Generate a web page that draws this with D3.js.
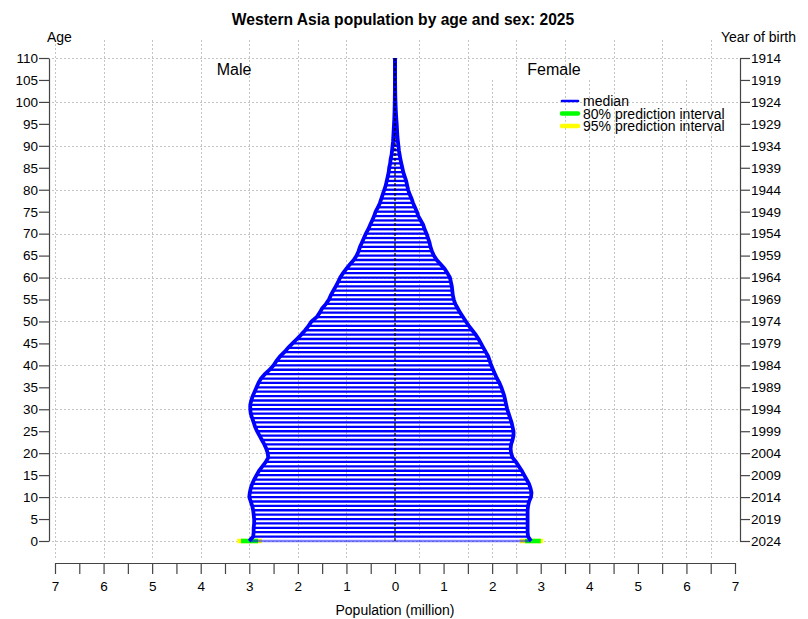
<!DOCTYPE html>
<html><head><meta charset="utf-8">
<script src="https://cdn.jsdelivr.net/npm/d3@7"></script>
<style>
body{margin:0;background:#fff;}
svg{display:block;font-family:"Liberation Sans",Arial,Helvetica,sans-serif;}
</style></head>
<body>
<svg id="chart" width="808" height="619"></svg>
<script>
// ---- data (population in millions, single ages 0..110) ----
const ages = d3.range(0, 111);
const male = [3.00,2.92,2.91,2.91,2.90,2.90,2.91,2.92,2.94,2.97,
  3.00,2.99,2.97,2.94,2.90,2.85,2.80,2.73,2.66,2.61,
  2.62,2.65,2.69,2.74,2.79,2.84,2.88,2.91,2.94,2.97,
  2.98,2.98,2.96,2.93,2.89,2.85,2.81,2.76,2.68,2.58,
  2.50,2.44,2.37,2.28,2.20,2.11,2.02,1.93,1.85,1.78,
  1.72,1.61,1.55,1.50,1.42,1.36,1.32,1.27,1.22,1.17,
  1.13,1.07,1.00,0.93,0.85,0.79,0.75,0.72,0.68,0.64,
  0.60,0.55,0.51,0.47,0.43,0.40,0.35,0.31,0.28,0.25,
  0.22,0.19,0.17,0.15,0.13,0.12,0.10,0.09,0.07,0.06,
  0.05,0.04,0.035,0.03,0.025,0.02,0.015,0.012,0.009,0.007,
  0.005,0.004,0.003,0.002,0.002,0.001,0.001,0.001,0.0005,0.0005,0.0003];
const female = [2.80,2.74,2.73,2.73,2.73,2.73,2.73,2.73,2.74,2.76,
  2.80,2.81,2.79,2.76,2.71,2.66,2.61,2.55,2.49,2.42,
  2.39,2.38,2.39,2.42,2.44,2.44,2.42,2.40,2.37,2.34,
  2.31,2.29,2.27,2.25,2.22,2.19,2.15,2.10,2.06,2.02,
  1.98,1.95,1.92,1.87,1.82,1.77,1.72,1.66,1.59,1.52,
  1.46,1.40,1.34,1.29,1.24,1.21,1.19,1.18,1.17,1.15,
  1.13,1.08,1.02,0.94,0.86,0.80,0.76,0.73,0.71,0.68,
  0.65,0.61,0.58,0.53,0.48,0.45,0.41,0.37,0.34,0.30,
  0.27,0.25,0.23,0.20,0.17,0.15,0.13,0.11,0.095,0.08,
  0.07,0.06,0.05,0.045,0.04,0.035,0.028,0.022,0.017,0.013,
  0.01,0.007,0.005,0.004,0.003,0.002,0.0015,0.001,0.001,0.0005,0.0005];
// prediction intervals at age 0 (low, high)
const male80 = [2.82, 3.17];
const male95 = [2.74, 3.25];
const female80 = [2.68, 3.00];
const female95 = [2.57, 3.05];

const ageTicks = d3.range(0, 111, 5);
const birthYears = ageTicks.map(a => String(2024 - a));
const popTicks = d3.range(-7, 7.01, 0.5);
const popLabels = ["7","6","5","4","3","2","1","0","1","2","3","4","5","6","7"];
const ageGrid = d3.range(0, 111, 10);
const maleGrid = [-7,-6,-5,-4,-3,-2,-1];
const femaleGridFull = [0.5,1.5,2.5,3.5,4.5,5.5,6.5];
const femaleGridPart = [2,4,6];
const legendItems = ["median","80% prediction interval","95% prediction interval"];
const legendColors = ["#0000ff","#00ff00","#ffff00"];

// ---- drawing ----
const svg = d3.select("#chart");
const x = d3.scaleLinear().domain([-7, 7]).range([55, 735]);
const y = d3.scaleLinear().domain([0, 110]).range([541, 58]);
const gridTop = 40, gridBottom = 560;

// grid
const grid = svg.append("g").attr("stroke", "#c4c4c4").attr("stroke-width", 1)
  .attr("stroke-dasharray", "2,2").attr("fill", "none");
grid.selectAll(".hg").data(ageGrid).join("line")
  .attr("x1", 52).attr("x2", 738)
  .attr("y1", d => Math.round(y(d)) + 0.5).attr("y2", d => Math.round(y(d)) + 0.5);
grid.selectAll(".vm").data(maleGrid).join("line")
  .attr("x1", d => Math.round(x(d)) + 0.5).attr("x2", d => Math.round(x(d)) + 0.5)
  .attr("y1", gridTop).attr("y2", gridBottom);
grid.selectAll(".vf").data(femaleGridFull).join("line")
  .attr("x1", d => Math.round(x(d)) + 0.5).attr("x2", d => Math.round(x(d)) + 0.5)
  .attr("y1", gridTop).attr("y2", gridBottom);
grid.selectAll(".vp").data(femaleGridPart).join("line")
  .attr("x1", d => Math.round(x(d)) + 0.5).attr("x2", d => Math.round(x(d)) + 0.5)
  .attr("y1", 80).attr("y2", gridBottom);

// prediction intervals at age 0
const pi = svg.append("g").attr("stroke-width", 4.5);
[[male95, -1, "#ffff00"], [female95, 1, "#ffff00"], [male80, -1, "#00ff00"], [female80, 1, "#00ff00"]]
  .forEach(([iv, s, c]) => {
    pi.append("line").attr("stroke", c)
      .attr("x1", x(s * iv[0])).attr("x2", x(s * iv[1]))
      .attr("y1", y(0)).attr("y2", y(0));
  });

// bars
const bars = svg.append("g").attr("stroke", "#0000ff").attr("stroke-width", 2.3);
bars.selectAll(".bm").data(ages).join("line")
  .attr("x1", x(0)).attr("x2", d => x(-male[d]))
  .attr("y1", d => y(d)).attr("y2", d => y(d))
  .attr("stroke-opacity", d => d === 0 ? 0.5 : 1);
bars.selectAll(".bf").data(ages).join("line")
  .attr("x1", x(0)).attr("x2", d => x(female[d]))
  .attr("y1", d => y(d)).attr("y2", d => y(d))
  .attr("stroke-opacity", d => d === 0 ? 0.5 : 1);

// outlines (median)
const outline = svg.append("g").attr("fill", "none").attr("stroke", "#0000ff")
  .attr("stroke-width", 3.8).attr("stroke-linejoin", "miter");
outline.append("path").attr("d", d3.line().x(d => x(-male[d])).y(d => y(d))(ages));
outline.append("path").attr("d", d3.line().x(d => x(female[d])).y(d => y(d))(ages));

// center line
svg.append("line").attr("x1", x(0)).attr("x2", x(0)).attr("y1", y(0)).attr("y2", y(110))
  .attr("stroke", "#000").attr("stroke-width", 1.2).attr("stroke-dasharray", "3,2");

// axes
const axColor = "#444";
function styleAxis(g) {
  g.selectAll("path,line").attr("stroke", axColor).attr("stroke-width", 1.2);
  g.selectAll("text").attr("fill", "#000").attr("font-size", "13.5px")
    .attr("font-family", '"Liberation Sans",Arial,sans-serif');
}
const leftAx = svg.append("g").attr("transform", "translate(49,0)")
  .call(d3.axisLeft(y).tickValues(ageTicks).tickSize(10).tickSizeOuter(0).tickPadding(1)
    .tickFormat(d => String(d)));
styleAxis(leftAx);
const rightAx = svg.append("g").attr("transform", "translate(740,0)")
  .call(d3.axisRight(y).tickValues(ageTicks).tickSize(10).tickSizeOuter(0).tickPadding(1)
    .tickFormat((d, i) => birthYears[i]));
styleAxis(rightAx);
const bottomAx = svg.append("g").attr("transform", "translate(0,563)")
  .call(d3.axisBottom(x).tickValues(popTicks).tickSize(11).tickSizeOuter(0).tickPadding(7)
    .tickFormat(d => Number.isInteger(d) ? popLabels[d + 7] : ""));
styleAxis(bottomAx);

// texts
const T = (t, xx, yy, opts = {}) => svg.append("text").text(t).attr("x", xx).attr("y", yy)
  .attr("font-size", opts.size || "13.5px").attr("font-weight", opts.weight || "normal")
  .attr("text-anchor", opts.anchor || "start").attr("fill", "#000");
T("Western Asia population by age and sex: 2025", 403, 25, {size: "15.6px", weight: "bold", anchor: "middle"});
T("Age", 47, 42, {size: "14px"});
T("Year of birth", 796, 42, {size: "14px", anchor: "end"});
T("Male", 234, 75, {size: "16px", anchor: "middle"});
T("Female", 554, 75, {size: "16px", anchor: "middle"});
T("Population (million)", 395, 615, {size: "14px", anchor: "middle"});

// legend
const lg = svg.append("g");
legendItems.forEach((t, i) => {
  const yy = 101 + i * 12.5;
  lg.append("line").attr("x1", 562).attr("x2", 578).attr("y1", yy).attr("y2", yy)
    .attr("stroke", legendColors[i]).attr("stroke-width", i === 0 ? 2.7 : 4.5)
    .attr("stroke-linecap", "round");
  lg.append("text").text(t).attr("x", 583).attr("y", yy + 5).attr("font-size", "14px").attr("fill", "#000");
});
</script>
</body></html>
